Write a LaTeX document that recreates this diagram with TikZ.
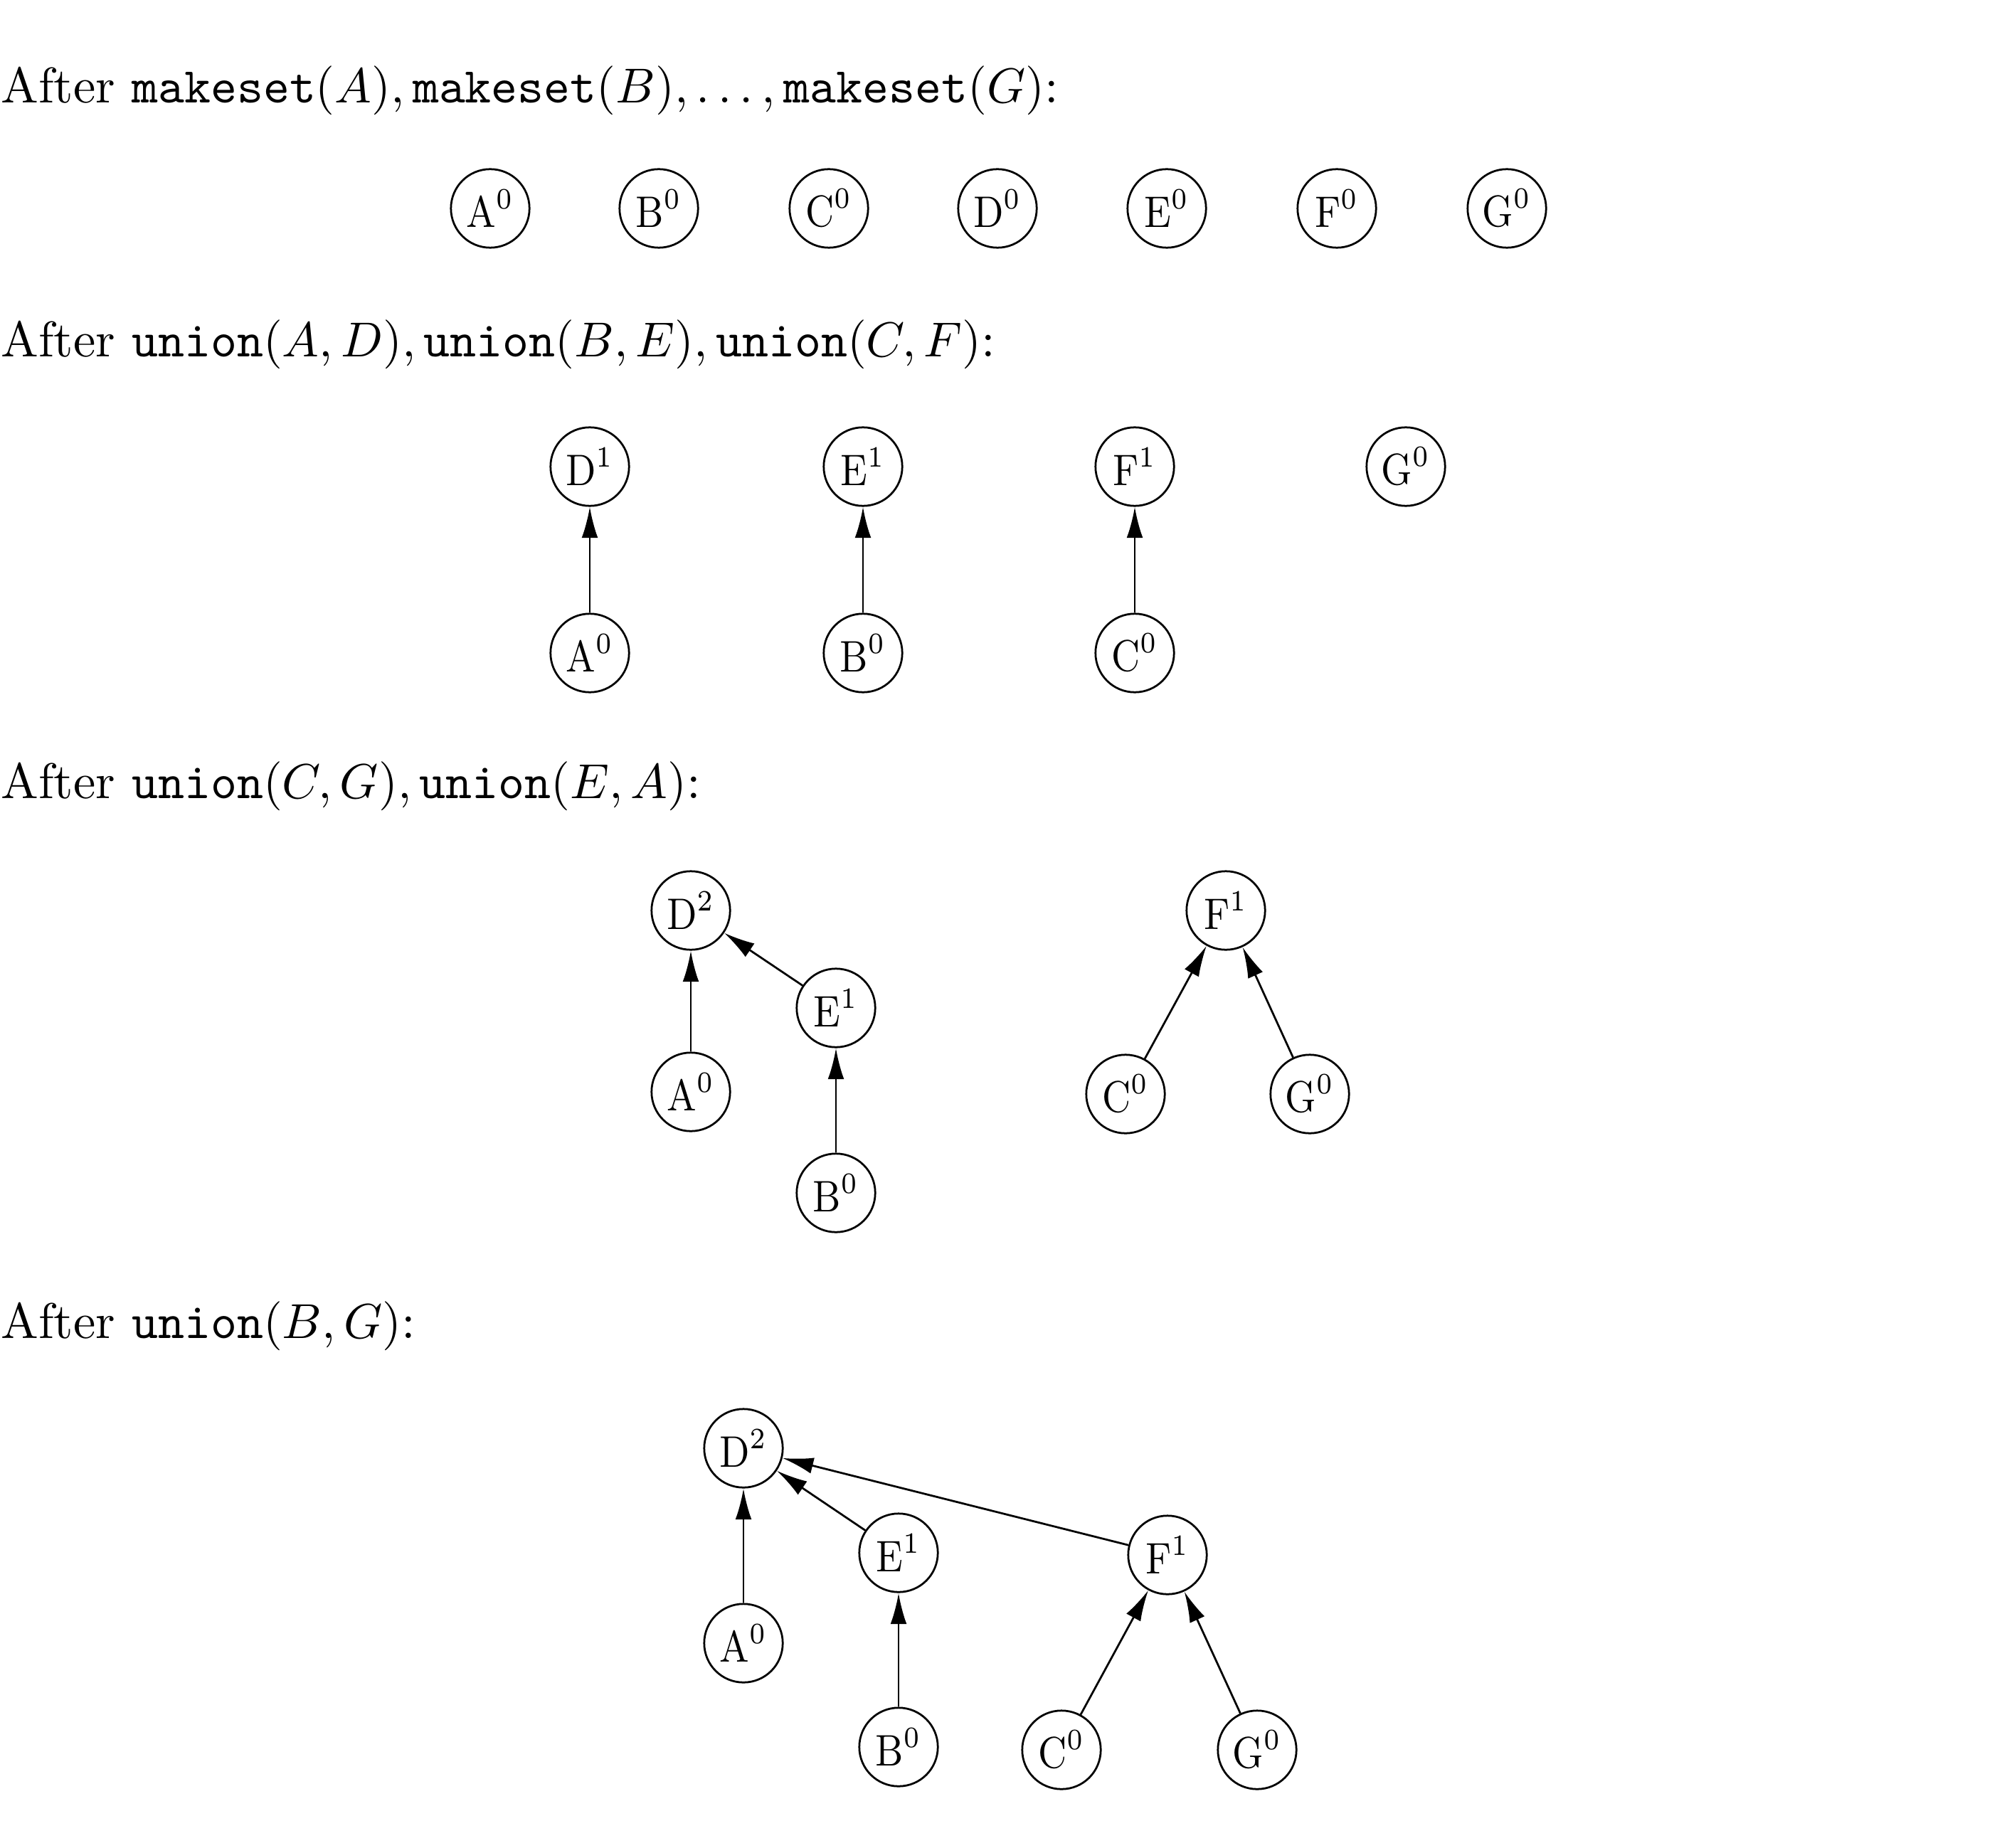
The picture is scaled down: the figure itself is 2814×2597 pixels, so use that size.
\documentclass[tikz,border=0pt]{standalone}
\usetikzlibrary{arrows.meta}
\newcommand{\vlab}[2]{\scalebox{0.87}[1]{#1$^{#2}$}}
\begin{document}
\begin{tikzpicture}[x=0.14493pt,y=-0.14493pt,
  vtx/.style={circle,draw,line width=0.4pt,minimum size=16pt,inner sep=0pt,font=\fontsize{9}{10}\selectfont},
  hdr/.style={anchor=base west,inner sep=0pt,font=\fontsize{10.2}{12}\selectfont},
  par/.style={-{Latex[length=6.3pt,width=3.3pt]},line width=0.4pt}]
\useasboundingbox (0,0) rectangle (2814,2597);
% headers
\node[hdr] (h1) at (0,145) {After $\texttt{makeset}(A), \texttt{makeset}(B), \ldots, \texttt{makeset}(G)$:};
\node[hdr] (h2) at (0,502) {After $\texttt{union}(A,D), \texttt{union}(B,E), \texttt{union}(C,F)$:};
\node[hdr] (h3) at (0,1122) {After $\texttt{union}(C,G), \texttt{union}(E,A)$:};
\node[hdr] (h4) at (0,1881) {After $\texttt{union}(B,G)$:};
% row 1
\node[vtx] (a1) at (689,293) {\vlab{A}{0}};
\node[vtx] (b1) at (926,293) {\vlab{B}{0}};
\node[vtx] (c1) at (1165,293) {\vlab{C}{0}};
\node[vtx] (d1) at (1402,293) {\vlab{D}{0}};
\node[vtx] (e1) at (1640,293) {\vlab{E}{0}};
\node[vtx] (f1) at (1879,293) {\vlab{F}{0}};
\node[vtx] (g1) at (2118,293) {\vlab{G}{0}};
% row 2
\node[vtx] (d2) at (829,656) {\vlab{D}{1}};
\node[vtx] (e2) at (1213,656) {\vlab{E}{1}};
\node[vtx] (f2) at (1595,656) {\vlab{F}{1}};
\node[vtx] (g2) at (1976,656) {\vlab{G}{0}};
\node[vtx] (a2) at (829,918) {\vlab{A}{0}};
\node[vtx] (b2) at (1213,918) {\vlab{B}{0}};
\node[vtx] (c2) at (1595,918) {\vlab{C}{0}};
\draw[par] (a2) -- (d2);
\draw[par] (b2) -- (e2);
\draw[par] (c2) -- (f2);
% row 3
\node[vtx] (d3) at (971,1280) {\vlab{D}{2}};
\node[vtx] (e3) at (1175,1417) {\vlab{E}{1}};
\node[vtx] (a3) at (971,1535) {\vlab{A}{0}};
\node[vtx] (b3) at (1175,1677) {\vlab{B}{0}};
\node[vtx] (f3) at (1723,1280) {\vlab{F}{1}};
\node[vtx] (c3) at (1582,1538) {\vlab{C}{0}};
\node[vtx] (g3) at (1841,1538) {\vlab{G}{0}};
\draw[par] (a3) -- (d3);
\draw[par] (e3) -- (d3);
\draw[par] (b3) -- (e3);
\draw[par] (c3) -- (f3);
\draw[par] (g3) -- (f3);
% row 4
\node[vtx] (d4) at (1045,2036) {\vlab{D}{2}};
\node[vtx] (e4) at (1263,2183) {\vlab{E}{1}};
\node[vtx] (f4) at (1641,2186) {\vlab{F}{1}};
\node[vtx] (a4) at (1045,2310) {\vlab{A}{0}};
\node[vtx] (b4) at (1263,2456) {\vlab{B}{0}};
\node[vtx] (c4) at (1492,2460) {\vlab{C}{0}};
\node[vtx] (g4) at (1767,2460) {\vlab{G}{0}};
\draw[par] (a4) -- (d4);
\draw[par] (e4) -- (d4);
\draw[par] (f4) -- (d4);
\draw[par] (b4) -- (e4);
\draw[par] (c4) -- (f4);
\draw[par] (g4) -- (f4);
\end{tikzpicture}
\end{document}
